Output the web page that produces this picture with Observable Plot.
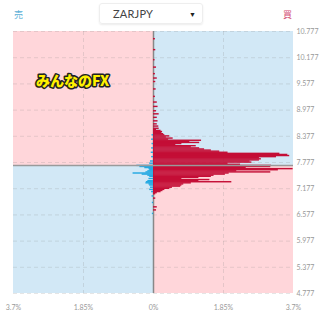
<!DOCTYPE html>
<html><head><meta charset="utf-8">
<script src="https://cdn.jsdelivr.net/npm/d3@7"></script>
<script src="https://cdn.jsdelivr.net/npm/@observablehq/plot@0.6"></script>
<style>
html,body{margin:0;padding:0;background:#fff;}
#wrap{width:320px;font-family:Lato,"Open Sans",sans-serif;}
#hdr{position:relative;height:27px;}
#hdr .sell{position:absolute;left:14px;top:9px;font-size:9px;color:#5aaed6;font-family:"Noto Sans CJK JP",sans-serif;line-height:11px;}
#hdr .buy{position:absolute;left:283px;top:9px;font-size:9px;color:#d24a72;font-family:"Noto Sans CJK JP",sans-serif;line-height:11px;}
#hdr .dd{position:absolute;left:99px;top:3px;width:104px;height:21px;border:1px solid #eee;border-radius:3px;box-shadow:0 1px 2px rgba(0,0,0,0.08);box-sizing:border-box;}
#hdr .dd .t{position:absolute;left:13px;top:3px;font-size:11px;color:#444;letter-spacing:0.2px;line-height:13px;}
#hdr .dd .c{position:absolute;left:89px;top:4px;font-size:7px;color:#222;line-height:12px;}
</style></head><body>
<div id="wrap">
  <div id="hdr">
    <span class="sell">売</span>
    <div class="dd"><span class="t" id="pair"></span><span class="c">▼</span></div>
    <span class="buy">買</span>
  </div>
  <div id="chart"></div>
</div>
<script>
const pair = "ZARJPY";
const watermark = "みんなのFX";
const currentPrice = 7.71;
const priceTicks = [4.777, 5.377, 5.977, 6.577, 7.177, 7.777, 8.377, 8.977, 9.577, 10.177, 10.777];
const percentTicks = [-3.7, -1.85, 0, 1.85, 3.7];
const binHalf = 0.0125;

// buy side (right, crimson): [price, percent]
const buyOrders = [
  [10.60, 0.05], [10.35, 0.06], [10.12, 0.04], [9.95, 0.08], [9.80, 0.05], [9.70, 0.10],
  [9.62, 0.06], [9.45, 0.07], [9.28, 0.05], [9.15, 0.10], [9.05, 0.12], [8.95, 0.08],
  [8.88, 0.15], [8.80, 0.10], [8.72, 0.12], [8.65, 0.10], [8.60, 0.14],
  [8.550, 0.15], [8.525, 0.08], [8.500, 0.20], [8.475, 0.24], [8.450, 0.22], [8.425, 0.27],
  [8.400, 0.30], [8.375, 0.43], [8.350, 0.34], [8.325, 0.52], [8.300, 0.40], [8.275, 1.27],
  [8.250, 0.96], [8.225, 1.22], [8.200, 0.75], [8.175, 0.59], [8.150, 1.13], [8.125, 1.00],
  [8.100, 1.22], [8.075, 1.35], [8.050, 1.53], [8.025, 1.75], [8.000, 1.97], [7.975, 3.34],
  [7.950, 3.55], [7.925, 3.60], [7.900, 3.25], [7.875, 2.80], [7.850, 2.85], [7.825, 2.80],
  [7.800, 2.55], [7.775, 2.60], [7.750, 1.97], [7.725, 2.30], [7.700, 3.12], [7.675, 3.10],
  [7.650, 2.45], [7.625, 3.69], [7.600, 3.30], [7.575, 2.20], [7.550, 3.10], [7.525, 2.00],
  [7.500, 1.90], [7.475, 1.60], [7.450, 1.53], [7.425, 1.20], [7.400, 0.75], [7.375, 1.49],
  [7.350, 1.20], [7.325, 2.07], [7.300, 1.00], [7.275, 0.80], [7.250, 0.75], [7.225, 0.72],
  [7.200, 0.50], [7.175, 0.43], [7.150, 0.30], [7.125, 0.25], [7.100, 0.20], [7.075, 0.10],
  [7.050, 0.06], [6.95, 0.06], [6.75, 0.10], [6.68, 0.08]
];

// sell side (left, azure): [price, percent]
const sellOrders = [
  [8.40, 0.04], [8.30, 0.05], [8.20, 0.04], [8.10, 0.05], [8.00, 0.06], [7.90, 0.05],
  [7.80, 0.08], [7.75, 0.10], [7.700, 0.44], [7.675, 0.36], [7.650, 0.23], [7.625, 0.12],
  [7.600, 0.10], [7.575, 0.15], [7.550, 0.20], [7.525, 0.54], [7.500, 0.30], [7.475, 0.15],
  [7.450, 0.10], [7.400, 0.12], [7.350, 0.15], [7.325, 0.19], [7.300, 0.20], [7.275, 0.12],
  [7.250, 0.10], [7.200, 0.08], [7.150, 0.10], [7.100, 0.05], [7.00, 0.04], [6.85, 0.03], [6.60, 0.03]
];

const pink = "#ffd6da", blue = "#d2e8f6";
const buyColor = "#c40e36", sellColor = "#22a8e2";

document.getElementById("pair").textContent = pair;

const yMin = d3.min(priceTicks), yMax = d3.max(priceTicks);
const xMin = d3.min(percentTicks), xMax = d3.max(percentTicks);

const zones = [
  {x1: xMin, x2: 0, y1: currentPrice, y2: yMax, fill: pink},
  {x1: 0, x2: xMax, y1: currentPrice, y2: yMax, fill: blue},
  {x1: xMin, x2: 0, y1: yMin, y2: currentPrice, fill: blue},
  {x1: 0, x2: xMax, y1: yMin, y2: currentPrice, fill: pink}
];

const pad = binHalf * 0.3;
const buyRows = buyOrders.map(([p, v]) => ({x1: 0, x2: v, y1: p - binHalf - pad, y2: p + binHalf + pad}));
const sellRows = sellOrders.map(([p, v]) => ({x1: 0, x2: -v, y1: p - binHalf - pad, y2: p + binHalf + pad}));

const chart = Plot.plot({
  width: 320,
  height: 289,
  marginTop: 4,
  marginBottom: 23,
  marginLeft: 13,
  marginRight: 27,
  style: {fontFamily: "Lato, 'Open Sans', sans-serif", fontSize: "7px", color: "#999", background: "transparent"},
  x: {domain: [xMin, xMax]},
  y: {domain: [yMin, yMax]},
  color: {type: "identity"},
  marks: [
    Plot.rect(zones, {x1: "x1", x2: "x2", y1: "y1", y2: "y2", fill: "fill"}),
    Plot.gridY(priceTicks, {stroke: "#888", strokeOpacity: 0.22, strokeDasharray: "4,3"}),
    Plot.gridX([-1.85, 1.85], {stroke: "#888", strokeOpacity: 0.22, strokeDasharray: "4,3"}),
    Plot.ruleX([0], {stroke: "#888", strokeWidth: 1.5}),
    Plot.rect(sellRows, {x1: "x1", x2: "x2", y1: "y1", y2: "y2", fill: sellColor}),
    Plot.rect(buyRows, {x1: "x1", x2: "x2", y1: "y1", y2: "y2", fill: buyColor}),
    Plot.ruleY([currentPrice], {stroke: "#9a9a9a", strokeWidth: 1.5}),
    Plot.axisY(priceTicks, {anchor: "right", tickSize: 0, tickPadding: 3, tickFormat: d3.format(".3f"), label: null}),
    Plot.axisX(percentTicks, {anchor: "bottom", tickSize: 0, tickPadding: 12, tickFormat: d => (d === 0 ? "0" : String(Math.abs(d))) + "%", label: null}),
    Plot.text([watermark], {text: d => d, frameAnchor: "top-left", dx: 59, dy: 45, textAnchor: "middle",
      fill: "#fff000", stroke: "#222", strokeWidth: 3, fontSize: 14, fontWeight: 900,
      fontFamily: "'Noto Sans CJK JP', sans-serif"})
  ]
});
document.getElementById("chart").appendChild(chart);
</script>
</body></html>
